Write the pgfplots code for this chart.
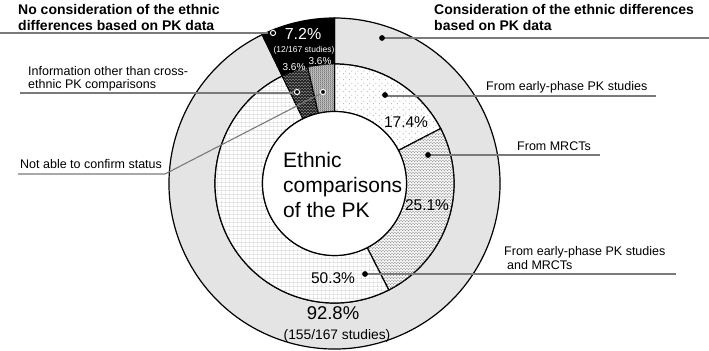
\documentclass[border=0pt]{standalone}
\usepackage{pgfplots}
\pgfplotsset{compat=1.18}
\usepackage{pgfplotstable}
\usepackage{fontspec}
\setmainfont{Liberation Sans}
\usetikzlibrary{patterns,patterns.meta}

% inner ring: how ethnic PK comparisons were made (% of 167 studies)
\pgfplotstableread{
seg    pct
early  17.4
mrct   25.1
both   50.3
other  3.6
unconf 3.6
}\innerring
% outer ring: consideration / no consideration
\pgfplotstableread{
seg      pct
consid   92.8
noconsid 7.2
}\outerring

\definecolor{ringgray}{HTML}{E4E4E4}
\definecolor{leader}{HTML}{7A7A7A}

\tikzdeclarepattern{name=sparsedots, type=colored,
  bottom left={(0,0)}, top right={(6bp,6bp)}, tile size={(6bp,6bp)},
  code={\fill[black!60] (1.5bp,1.5bp) circle (0.5bp);
        \fill[black!60] (4.5bp,4.5bp) circle (0.5bp);}}
\tikzdeclarepattern{name=densedots, type=colored,
  bottom left={(0,0)}, top right={(3bp,3bp)}, tile size={(3bp,3bp)},
  code={\fill[black!65] (0.75bp,0.75bp) circle (0.5bp);
        \fill[black!65] (2.25bp,2.25bp) circle (0.5bp);}}
\tikzdeclarepattern{name=finegrid, type=colored,
  bottom left={(0,0)}, top right={(3.6bp,3.6bp)}, tile size={(3.6bp,3.6bp)},
  code={\draw[black!62, line width=0.5bp] (0,0) -- (3.6bp,0) (0,0) -- (0,3.6bp);}}
\tikzdeclarepattern{name=whitedots, type=colored,
  bottom left={(0,0)}, top right={(3bp,3bp)}, tile size={(3bp,3bp)},
  code={\fill[white] (0.75bp,0.75bp) circle (0.4bp);
        \fill[white] (2.25bp,2.25bp) circle (0.4bp);}}
\tikzdeclarepattern{name=graydots, type=colored,
  bottom left={(0,0)}, top right={(2bp,2bp)}, tile size={(2bp,2bp)},
  code={\fill[black!80] (1bp,1bp) circle (0.45bp);}}

\newcommand\getpct[3]{\pgfplotstablegetelem{#2}{pct}\of#1\edef#3{\pgfplotsretval}}
% ring segment: r_in, r_out, start angle, end angle, style
\newcommand\seg[5]{%
  \path[#5, shift={(axis cs:334.5,-183.5)}]
    (#3:#2bp) arc[start angle=#3, end angle=#4, radius=#2bp]
    -- (#4:#1bp) arc[start angle=#4, end angle=#3, radius=#1bp] -- cycle;}

\begin{document}
\begin{tikzpicture}
\getpct\innerring{0}\pA
\getpct\innerring{1}\pB
\getpct\innerring{2}\pC
\getpct\innerring{3}\pD
\getpct\innerring{4}\pE
\getpct\outerring{1}\pN
\pgfmathsetmacro\aA{90-3.6*\pA}
\pgfmathsetmacro\aB{\aA-3.6*\pB}
\pgfmathsetmacro\aC{\aB-3.6*\pC}
\pgfmathsetmacro\aD{\aC-3.6*\pD}
\pgfmathsetmacro\aE{\aD-3.6*\pE}
\pgfmathsetmacro\aN{90+3.6*\pN}
\pgfmathsetmacro\aNend{\aN+360-3.6*\pN}
\begin{axis}[
  width=709bp, height=351bp, scale only axis,
  xmin=0, xmax=709, ymin=-351, ymax=0,
  hide axis, clip=true,
]
\coordinate (BL) at (axis cs:0,-351);
\coordinate (TR) at (axis cs:709,0);
% outer ring
\seg{119.5}{165.5}{\aN}{\aNend}{fill=ringgray, draw=black, line width=1.2bp}
\seg{119.5}{165.5}{90}{\aN}{fill=black, draw=black, line width=1.2bp}
% inner ring
\seg{72}{119.5}{90}{\aA}{fill=white, postaction={pattern=sparsedots}, draw=black, line width=1.2bp}
\seg{72}{119.5}{\aA}{\aB}{fill=gray!10, postaction={pattern=densedots}, draw=black, line width=1.2bp}
\seg{72}{119.5}{\aB}{\aC}{fill=white, postaction={pattern=finegrid}, draw=black, line width=1.2bp}
\seg{72}{119.5}{\aC}{\aD}{fill=black!85, postaction={pattern=whitedots}, draw=black, line width=1.2bp}
\seg{72}{119.5}{\aD}{\aE}{fill=gray!70, postaction={pattern=graydots}, draw=black, line width=1.2bp}
\draw[fill=white, line width=1.2bp] (axis cs:334.5,-183.5) circle[radius=72bp];

% leader lines
\addplot[leader, line width=1.1bp, no markers] coordinates {(0,-33) (268,-33)};
\addplot[leader, line width=1.1bp, no markers] coordinates {(20,-93) (293,-93)};
\addplot[leader, line width=1.1bp, no markers] coordinates {(18,-174) (165,-174) (320,-94)};
\addplot[leader, line width=1.1bp, no markers] coordinates {(382,-38) (709,-38)};
\addplot[leader, line width=1.1bp, no markers] coordinates {(385,-96) (656,-96)};
\addplot[leader, line width=1.1bp, no markers] coordinates {(428,-155) (600,-155)};
\addplot[leader, line width=1.1bp, no markers] coordinates {(365,-274) (676,-274)};

% markers
\addplot[only marks, mark=*, mark size=2.6bp, black] coordinates {(382,-38) (385,-95) (428,-155) (365,-274)};
\addplot[only marks, mark=*, mark size=2.6bp, mark options={fill=black, draw=white, line width=1bp}]
  coordinates {(273,-33) (297,-92) (323,-92)};

% titles and labels
\node[anchor=base west, inner sep=0pt, font=\fontsize{14bp}{16bp}\selectfont\bfseries] at (axis cs:18,-15) {No consideration of the ethnic};
\node[anchor=base west, inner sep=0pt, font=\fontsize{14bp}{16bp}\selectfont\bfseries] at (axis cs:18,-31) {differences based on PK data};
\node[anchor=base west, inner sep=0pt, font=\fontsize{14bp}{16bp}\selectfont\bfseries] at (axis cs:434,-15) {Consideration of the ethnic differences};
\node[anchor=base west, inner sep=0pt, font=\fontsize{14bp}{16bp}\selectfont\bfseries] at (axis cs:434,-31) {based on PK data};

\node[anchor=base west, inner sep=0pt, font=\fontsize{12.5bp}{14bp}\selectfont] at (axis cs:28,-76) {Information other than cross-};
\node[anchor=base west, inner sep=0pt, font=\fontsize{12.5bp}{14bp}\selectfont] at (axis cs:28,-89) {ethnic PK comparisons};
\node[anchor=base west, inner sep=0pt, font=\fontsize{12.5bp}{14bp}\selectfont] at (axis cs:20,-169) {Not able to confirm status};
\node[anchor=base west, inner sep=0pt, font=\fontsize{12.5bp}{14bp}\selectfont] at (axis cs:486,-91) {From early-phase PK studies};
\node[anchor=base west, inner sep=0pt, font=\fontsize{12.5bp}{14bp}\selectfont] at (axis cs:517,-151) {From MRCTs};
\node[anchor=base west, inner sep=0pt, font=\fontsize{12.5bp}{14bp}\selectfont] at (axis cs:504,-256) {From early-phase PK studies};
\node[anchor=base west, inner sep=0pt, font=\fontsize{12.5bp}{14bp}\selectfont] at (axis cs:507,-270) {and MRCTs};

% centre text
\node[anchor=base west, inner sep=0pt, font=\fontsize{21bp}{25bp}\selectfont] at (axis cs:283,-168) {Ethnic};
\node[anchor=base west, inner sep=0pt, font=\fontsize{21bp}{25bp}\selectfont] at (axis cs:283,-193) {comparisons};
\node[anchor=base west, inner sep=0pt, font=\fontsize{21bp}{25bp}\selectfont] at (axis cs:283,-218) {of the PK};

% percentages
\node[font=\fontsize{15.5bp}{17bp}\selectfont] at (axis cs:406,-122) {\pA\%};
\node[font=\fontsize{15.5bp}{17bp}\selectfont] at (axis cs:427,-205) {\pB\%};
\node[font=\fontsize{15.5bp}{17bp}\selectfont] at (axis cs:333,-278) {\pC\%};
\node[font=\fontsize{18.5bp}{20bp}\selectfont] at (axis cs:333,-313) {92.8\%};
\node[font=\fontsize{13.8bp}{15bp}\selectfont] at (axis cs:337,-336) {(155/167 studies)};
\node[font=\fontsize{16bp}{17bp}\selectfont, text=white] at (axis cs:303,-34) {\pN\%};
\node[font=\fontsize{8.5bp}{10bp}\selectfont, text=white] at (axis cs:304,-50) {(12/167 studies)};
\node[font=\fontsize{10bp}{11bp}\selectfont, text=white] at (axis cs:294,-67) {\pD\%};
\node[font=\fontsize{10bp}{11bp}\selectfont, text=white] at (axis cs:320,-61) {\pE\%};
\end{axis}
\pgfresetboundingbox
\path[use as bounding box] (BL) rectangle (TR);
\end{tikzpicture}
\end{document}
